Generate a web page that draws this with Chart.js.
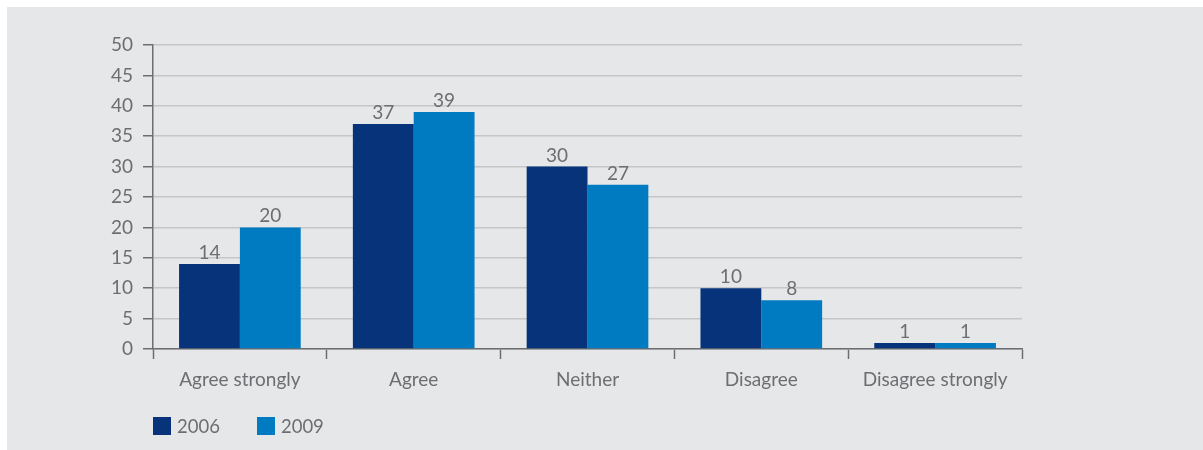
<!DOCTYPE html>
<html>
<head>
<meta charset="utf-8">
<script src="https://cdn.jsdelivr.net/npm/chart.js@4"></script>
<style>
  html, body { margin: 0; padding: 0; background: #ffffff; }
  #panel {
    position: absolute; left: 7px; top: 7px;
    width: 1196px; height: 443px;
    background: #e6e7e8;
  }
  #legend {
    position: absolute; left: 146px; top: 408px;
    font-family: Lato, sans-serif; font-size: 18.5px; color: #6d6e71;
    display: flex; align-items: center;
  }
  .item { display: flex; align-items: center; margin-right: 37px; }
  .swatch { width: 18px; height: 18px; margin-right: 6px; }
</style>
</head>
<body>
<div id="panel">
  <canvas id="surveyChart"></canvas>
  <div id="legend"></div>
</div>
<script>
// Chart data
const categories = ['Agree strongly', 'Agree', 'Neither', 'Disagree', 'Disagree strongly'];
const seriesNames = ['2006', '2009'];
const values2006 = [14, 37, 30, 10, 1];
const values2009 = [20, 39, 27, 8, 1];
const seriesColors = ['#07337a', '#007bc2'];

const textGrey = '#6d6e71';
const axisGrey = '#6d6e71';
const gridGrey = '#c5c6c8';

Chart.defaults.font.family = 'Lato, sans-serif';
Chart.defaults.font.size = 19;
Chart.defaults.color = textGrey;

// Draws the value above each bar
const valueLabels = {
    id: 'valueLabels',
    afterDatasetsDraw(chart) {
        const ctx = chart.ctx;
        ctx.save();
        ctx.font = '19px Lato, sans-serif';
        ctx.fillStyle = textGrey;
        ctx.textAlign = 'center';
        ctx.textBaseline = 'alphabetic';
        chart.data.datasets.forEach((ds, i) => {
            chart.getDatasetMeta(i).data.forEach((bar, j) => {
                ctx.fillText(String(ds.data[j]), bar.x, bar.y - 5);
            });
        });
        ctx.restore();
    }
};

const ctx = document.getElementById('surveyChart').getContext('2d');

const chart = new Chart(ctx, {
    type: 'bar',
    data: {
        labels: categories,
        datasets: [
            { label: seriesNames[0], data: values2006, backgroundColor: seriesColors[0] },
            { label: seriesNames[1], data: values2009, backgroundColor: seriesColors[1] }
        ]
    },
    options: {
        responsive: true,
        maintainAspectRatio: false,
        animation: false,
        categoryPercentage: 0.7,
        barPercentage: 1.0,
        layout: { padding: { top: 38, right: 181, bottom: 0, left: 0 } },
        plugins: {
            legend: { display: false },
            tooltip: { enabled: false }
        },
        scales: {
            x: {
                grid: {
                    drawOnChartArea: false,
                    tickLength: 10,
                    tickColor: axisGrey,
                    tickWidth: 1.5
                },
                border: { color: axisGrey, width: 1.5 },
                ticks: { padding: 9, color: textGrey },
                afterFit(scale) { scale.height = 101; }
            },
            y: {
                min: 0,
                max: 50,
                ticks: { stepSize: 5, padding: 10, color: textGrey },
                grid: {
                    color: gridGrey,
                    lineWidth: 1.5,
                    tickLength: 10,
                    tickColor: axisGrey,
                    tickWidth: 1.5
                },
                border: { color: axisGrey, width: 1.5 },
                afterFit(scale) { scale.width = 146; }
            }
        }
    },
    plugins: [valueLabels]
});

// HTML legend
const legend = document.getElementById('legend');
seriesNames.forEach((name, i) => {
    const item = document.createElement('div');
    item.className = 'item';
    const sw = document.createElement('div');
    sw.className = 'swatch';
    sw.style.background = seriesColors[i];
    const label = document.createElement('span');
    label.textContent = name;
    item.appendChild(sw);
    item.appendChild(label);
    legend.appendChild(item);
});
</script>
</body>
</html>
